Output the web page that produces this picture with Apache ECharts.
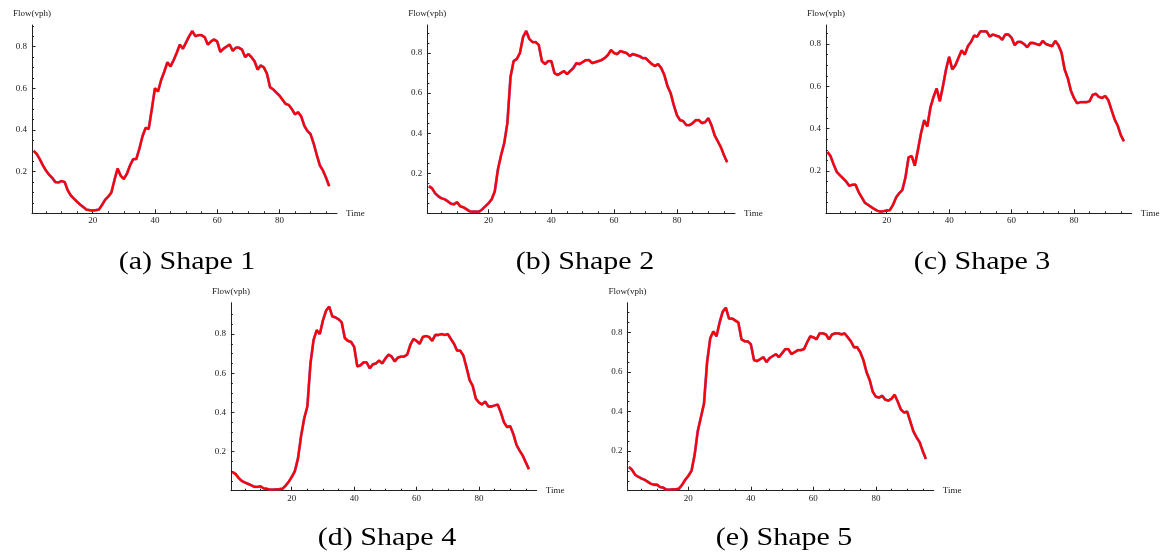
<!DOCTYPE html>
<html>
<head>
<meta charset="utf-8">
<script src="https://cdn.jsdelivr.net/npm/echarts@6/dist/echarts.min.js"></script>
<style>
  html, body { margin: 0; padding: 0; background: #fff; }
  #main { width: 1163px; height: 555px; }
</style>
</head>
<body>
<div id="main"></div>
<script>
// flow per time slot (1..96)
const shape1 = [0.30,0.285,0.26,0.23,0.205,0.185,0.17,0.15,0.148,0.155,0.15,0.11,0.085,0.07,0.055,0.042,0.03,0.018,0.015,0.013,
  0.015,0.018,0.04,0.065,0.08,0.1,0.16,0.215,0.18,0.165,0.19,0.23,0.26,0.26,0.31,0.37,0.41,0.405,0.5,0.6,
  0.585,0.64,0.68,0.725,0.705,0.735,0.77,0.81,0.79,0.82,0.85,0.875,0.85,0.855,0.855,0.845,0.81,0.825,0.835,0.825,
  0.775,0.79,0.80,0.81,0.78,0.795,0.795,0.785,0.75,0.765,0.75,0.73,0.69,0.71,0.70,0.67,0.605,0.595,0.58,0.565,
  0.545,0.525,0.52,0.50,0.475,0.485,0.465,0.42,0.395,0.38,0.335,0.28,0.23,0.205,0.17,0.13];
const shape2 = [0.135,0.125,0.10,0.085,0.075,0.07,0.06,0.048,0.045,0.055,0.035,0.03,0.02,0.01,0.008,0.008,0.008,0.02,0.035,0.05,
  0.07,0.11,0.22,0.29,0.35,0.45,0.68,0.76,0.77,0.80,0.88,0.91,0.87,0.855,0.855,0.84,0.76,0.745,0.76,0.76,
  0.70,0.69,0.70,0.71,0.695,0.71,0.725,0.75,0.745,0.755,0.765,0.765,0.75,0.755,0.76,0.765,0.775,0.79,0.815,0.80,
  0.795,0.81,0.805,0.80,0.785,0.795,0.79,0.785,0.775,0.775,0.76,0.745,0.735,0.745,0.725,0.69,0.635,0.60,0.54,0.49,
  0.465,0.46,0.44,0.44,0.45,0.465,0.465,0.45,0.455,0.475,0.44,0.39,0.36,0.33,0.29,0.255];
const shape3 = [0.29,0.27,0.23,0.195,0.18,0.165,0.15,0.13,0.135,0.135,0.10,0.075,0.05,0.04,0.03,0.02,0.012,0.008,0.01,0.013,
  0.015,0.04,0.075,0.095,0.11,0.17,0.265,0.27,0.225,0.30,0.38,0.44,0.41,0.50,0.55,0.59,0.53,0.60,0.68,0.74,
  0.68,0.70,0.735,0.77,0.75,0.79,0.81,0.84,0.835,0.86,0.86,0.86,0.835,0.845,0.84,0.835,0.82,0.845,0.845,0.83,
  0.795,0.81,0.81,0.80,0.785,0.805,0.805,0.80,0.795,0.815,0.80,0.795,0.79,0.815,0.795,0.76,0.68,0.64,0.58,0.545,
  0.52,0.525,0.525,0.525,0.53,0.56,0.565,0.55,0.545,0.555,0.535,0.49,0.445,0.415,0.37,0.34];
const shape4 = [0.095,0.085,0.065,0.05,0.042,0.035,0.028,0.02,0.02,0.022,0.012,0.01,0.005,0.005,0.007,0.008,0.01,0.025,0.045,0.07,
  0.10,0.165,0.28,0.37,0.43,0.65,0.77,0.82,0.80,0.87,0.92,0.94,0.89,0.885,0.875,0.86,0.78,0.765,0.76,0.735,
  0.635,0.64,0.655,0.655,0.625,0.645,0.65,0.665,0.65,0.675,0.695,0.685,0.66,0.68,0.685,0.685,0.695,0.745,0.775,0.765,
  0.75,0.785,0.79,0.785,0.765,0.795,0.795,0.80,0.795,0.80,0.775,0.75,0.715,0.715,0.69,0.63,0.565,0.535,0.47,0.45,
  0.44,0.455,0.43,0.43,0.435,0.44,0.40,0.35,0.325,0.33,0.29,0.235,0.205,0.18,0.145,0.11];
const shape5 = [0.12,0.105,0.08,0.07,0.062,0.055,0.045,0.035,0.03,0.03,0.018,0.015,0.005,0.005,0.007,0.007,0.01,0.03,0.055,0.075,
  0.10,0.18,0.30,0.37,0.44,0.65,0.77,0.805,0.78,0.85,0.905,0.925,0.87,0.87,0.86,0.85,0.765,0.755,0.755,0.74,
  0.66,0.655,0.665,0.675,0.65,0.67,0.68,0.69,0.675,0.695,0.715,0.715,0.69,0.70,0.71,0.71,0.715,0.75,0.78,0.775,
  0.765,0.795,0.795,0.79,0.765,0.79,0.795,0.795,0.79,0.795,0.775,0.755,0.725,0.725,0.70,0.66,0.60,0.56,0.50,0.475,
  0.47,0.48,0.46,0.455,0.465,0.485,0.45,0.41,0.395,0.40,0.35,0.30,0.27,0.245,0.20,0.16];

const shapes = [shape1, shape2, shape3, shape4, shape5];
const captions = ['(a) Shape 1', '(b) Shape 2', '(c) Shape 3', '(d) Shape 4', '(e) Shape 5'];

const xLabels = [20, 40, 60, 80];
const xMinor = [5, 10, 15, 25, 30, 35, 45, 50, 55, 65, 70, 75, 85, 90, 95];
const yLabels = [0.2, 0.4, 0.6, 0.8];
const yMinor = [0.05, 0.1, 0.15, 0.25, 0.3, 0.35, 0.45, 0.5, 0.55, 0.65, 0.7, 0.75, 0.85, 0.9];

// panel placement: grid box, y-axis top value, caption centre
const panels = [
  { left: 32, top: 25, width: 305, height: 188.3, ymax: 0.904, cx: 187, cy: 262 },
  { left: 427.3, top: 25, width: 307.7, height: 188.3, ymax: 0.94, cx: 585, cy: 262 },
  { left: 825.9, top: 25, width: 305.8, height: 188.3, ymax: 0.89, cx: 982, cy: 262 },
  { left: 230.9, top: 302.7, width: 305.8, height: 188, ymax: 0.96, cx: 387, cy: 538 },
  { left: 627.4, top: 302.7, width: 306.3, height: 188, ymax: 0.95, cx: 784, cy: 538 }
];

const serif = '"Liberation Serif", "DejaVu Serif", serif';
const axisColor = '#222';

var grid = [], xAxis = [], yAxis = [], series = [], graphic = [];

panels.forEach(function (p, i) {
  grid.push({ left: p.left, top: p.top, width: p.width, height: p.height });
  let base = { gridIndex: i, type: 'value', min: 0.5, max: 98.5, splitLine: { show: false } };
  xAxis.push(Object.assign({}, base, {
    position: 'bottom',
    name: 'Time',
    nameLocation: 'end',
    nameGap: 9,
    nameTextStyle: { fontFamily: serif, fontSize: 9, color: axisColor },
    axisLine: { onZero: false, lineStyle: { color: axisColor, width: 1 } },
    axisTick: { inside: true, length: 4, customValues: xLabels, lineStyle: { color: axisColor } },
    axisLabel: { customValues: xLabels, margin: 3, fontFamily: serif, fontSize: 9, color: axisColor }
  }));
  xAxis.push(Object.assign({}, base, {
    position: 'bottom',
    axisLine: { show: false },
    axisTick: { inside: true, length: 2, customValues: xMinor, lineStyle: { color: axisColor } },
    axisLabel: { show: false }
  }));
  let ybase = { gridIndex: i, type: 'value', min: 0, max: p.ymax, splitLine: { show: false } };
  yAxis.push(Object.assign({}, ybase, {
    position: 'left',
    name: 'Flow(vph)',
    nameLocation: 'end',
    nameGap: 7,
    nameTextStyle: { fontFamily: serif, fontSize: 9, color: axisColor },
    axisLine: { show: true, onZero: false, lineStyle: { color: axisColor, width: 1 } },
    axisTick: { show: true, inside: true, length: 3.5, customValues: yLabels, lineStyle: { color: axisColor } },
    axisLabel: { customValues: yLabels, margin: 5, fontFamily: serif, fontSize: 9, color: axisColor }
  }));
  yAxis.push(Object.assign({}, ybase, {
    position: 'left',
    axisLine: { show: false },
    axisTick: { show: true, inside: true, length: 2, customValues: yMinor, lineStyle: { color: axisColor } },
    axisLabel: { show: false }
  }));

  let points = shapes[i].map(function (v, k) { return [k + 1, v]; });
  // blue reference curve sits under the red one, only its edges show
  series.push({
    type: 'line', xAxisIndex: 2 * i, yAxisIndex: 2 * i, data: points,
    showSymbol: false, silent: true,
    lineStyle: { color: '#4b4bd6', width: 2.8, opacity: 0.75 }
  });
  series.push({
    type: 'line', xAxisIndex: 2 * i, yAxisIndex: 2 * i, data: points,
    showSymbol: false, silent: true,
    lineStyle: { color: '#ff0000', width: 2.3 }
  });

  graphic.push({
    type: 'text', x: p.cx, y: p.cy, scaleX: 1.2,
    style: { text: captions[i], fontFamily: serif, fontSize: 25, fill: '#000', align: 'center', verticalAlign: 'middle' }
  });
});

var chart = echarts.init(document.getElementById('main'));
chart.setOption({
  backgroundColor: '#fff',
  animation: false,
  grid: grid,
  xAxis: xAxis,
  yAxis: yAxis,
  series: series,
  graphic: graphic
});
</script>
</body>
</html>
